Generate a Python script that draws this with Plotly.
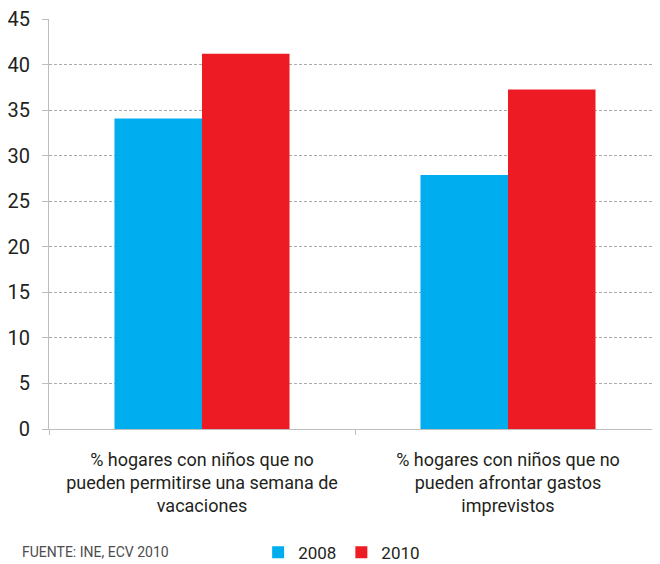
import plotly.graph_objects as go

categories = ["% hogares con niños que no<br>pueden permitirse una semana de<br>vacaciones",
              "% hogares con niños que no<br>pueden afrontar gastos<br>imprevistos"]
values_2008 = [34.1, 27.9]
values_2010 = [41.2, 37.3]
y_ticks = [0, 5, 10, 15, 20, 25, 30, 35, 40, 45]

FONT = "Roboto, sans-serif"
TXT = "#231f20"
AX = "#bdbdbd"

fig = go.Figure()
fig.add_trace(go.Bar(x=categories, y=values_2008, name="2008",
                     marker=dict(color="#00AEEF", line=dict(width=0))))
fig.add_trace(go.Bar(x=categories, y=values_2010, name="2010",
                     marker=dict(color="#ED1C24", line=dict(width=0))))

fig.update_layout(
    width=660, height=564,
    margin=dict(l=41, r=7, t=11, b=143, autoexpand=False),
    barmode="group", bargap=0.428, bargroupgap=0,
    plot_bgcolor="white", paper_bgcolor="white",
    font=dict(family=FONT, color=TXT),
    legend=dict(orientation="h", x=0.379, y=0.034, xref="container", yref="container",
                xanchor="left", yanchor="middle", font=dict(size=17, color=TXT),
                itemwidth=30, traceorder="normal", bgcolor="rgba(0,0,0,0)"),
    yaxis=dict(range=[0, 45.03], tickvals=y_ticks, showgrid=True, gridcolor="#aaaaaa",
               griddash="3px,2px", gridwidth=1, showline=True, linecolor=AX, linewidth=1,
               ticks="outside", ticklen=6, tickcolor=AX, tickfont=dict(size=20, color=TXT),
               ticklabelstandoff=8, ticklabeloverflow="allow", zeroline=False, automargin=False),
    xaxis=dict(showline=True, linecolor=AX, linewidth=1, ticks="outside", tickson="boundaries",
               ticklen=5, tickcolor=AX, tickfont=dict(size=18, color=TXT), ticklabelstandoff=14,
               automargin=False),
    annotations=[dict(text="FUENTE: INE, ECV 2010", xref="paper", yref="paper", x=-0.0474, y=-0.300,
                      xanchor="left", yanchor="middle", showarrow=False,
                      font=dict(size=14, color="#4d4d4d", family=FONT))],
)

fig.write_html("out.html")
